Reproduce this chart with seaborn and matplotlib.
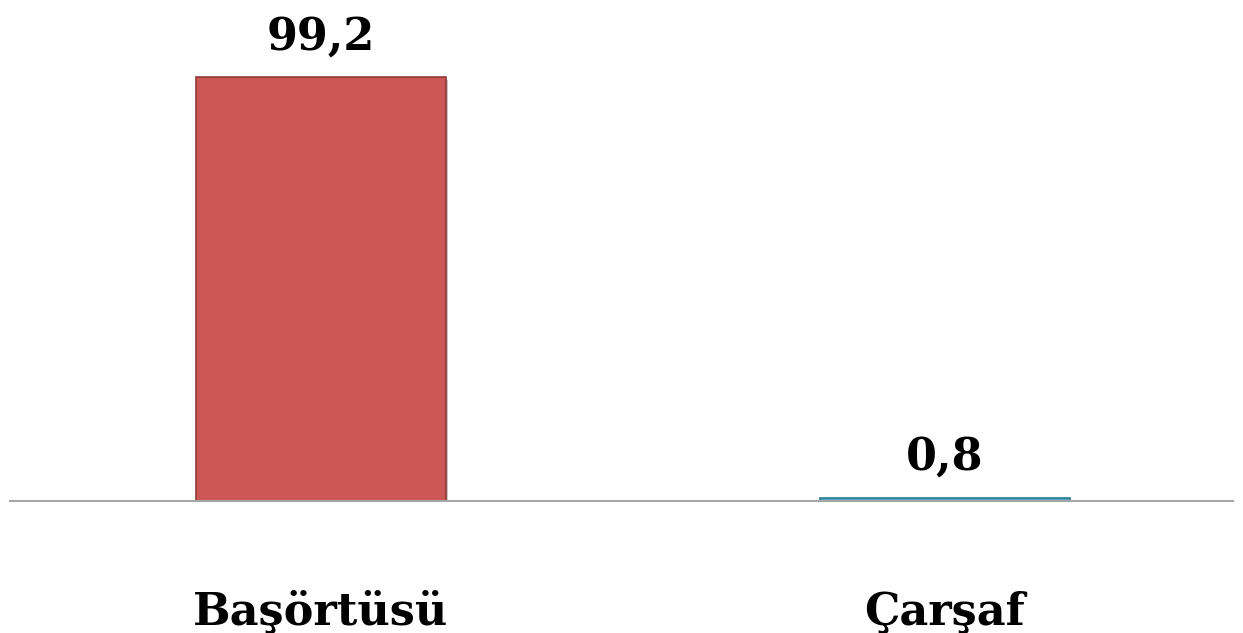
import pandas as pd
import seaborn as sns
import matplotlib.pyplot as plt
import matplotlib.patheffects as pe

categories = ["Başörtüsü", "Çarşaf"]
values = [99.2, 0.8]
value_labels = ["99,2", "0,8"]
colors = ["#CD5755", "#4BACC6"]
edges = ["#8E3B39", "#2F7D92"]

df = pd.DataFrame({"kategori": categories, "deger": values})

sns.set_style("white")
plt.rcParams["font.family"] = ["DejaVu Serif"]
plt.rcParams["text.color"] = "black"

fig = plt.figure(figsize=(12.43, 6.33), dpi=100)
ax = fig.add_axes([10 / 1243, 132 / 633, 1223 / 1243, 501 / 633])

sns.barplot(data=df, x="kategori", y="deger", hue="kategori", palette=colors,
            width=0.4, legend=False, ax=ax, saturation=1)

# darker edge + soft shadow, like the office-style bars
for bar, ec in zip(ax.patches, edges):
    bar.set_edgecolor(ec)
    bar.set_linewidth(1.2)
    bar.set_path_effects([pe.SimplePatchShadow(offset=(2, -2), alpha=0.25), pe.Normal()])

for i, (v, lab) in enumerate(zip(values, value_labels)):
    ax.annotate(lab, (i, v), xytext=(0, 20), textcoords="offset points",
                ha="center", va="baseline", fontsize=32, fontweight="bold",
                color="black")

ax.set_xlim(-0.498, 1.4615)
ax.set_ylim(0, 117.2)
ax.set_yticks([])
ax.set_xlabel("")
ax.set_ylabel("")
for s in ["top", "left", "right"]:
    ax.spines[s].set_visible(False)
ax.spines["bottom"].set_color("#A6A6A6")
ax.spines["bottom"].set_linewidth(1.5)
ax.tick_params(axis="x", length=0, pad=89, labelsize=32, labelcolor="black")
for t in ax.get_xticklabels():
    t.set_fontweight("bold")
    t.set_va("baseline")

fig.savefig("out.png", dpi=100)
